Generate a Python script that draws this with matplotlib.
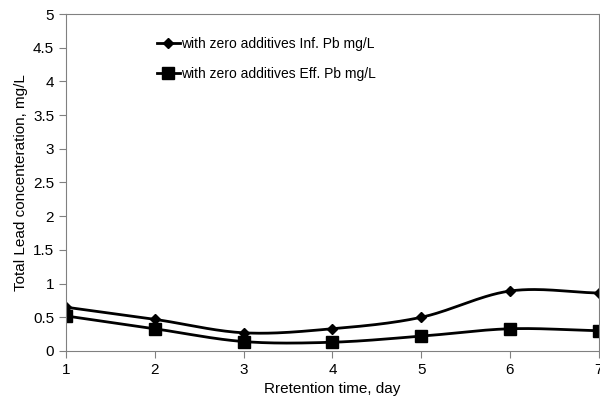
import numpy as np
import matplotlib
matplotlib.use("Agg")
from matplotlib import pyplot as plt

plt.rcParams["font.family"] = ["Liberation Sans", "DejaVu Sans"]

# data
days = [1, 2, 3, 4, 5, 6, 7]
inf_pb = [0.65, 0.47, 0.27, 0.33, 0.50, 0.89, 0.86]
eff_pb = [0.52, 0.33, 0.14, 0.13, 0.22, 0.33, 0.30]

labels = ["with zero additives Inf. Pb mg/L", "with zero additives Eff. Pb mg/L"]


def smooth(x, y, n=30):
    """Catmull-Rom curve through the points, like Excel's smoothed line"""
    x = np.asarray(x, dtype=float)
    y = np.asarray(y, dtype=float)
    px = np.concatenate([[2 * x[0] - x[1]], x, [2 * x[-1] - x[-2]]])
    py = np.concatenate([[2 * y[0] - y[1]], y, [2 * y[-1] - y[-2]]])
    xs, ys = [], []
    t = np.linspace(0, 1, n)
    for i in range(1, len(px) - 2):
        for p, out in ((px, xs), (py, ys)):
            p0, p1, p2, p3 = p[i - 1], p[i], p[i + 1], p[i + 2]
            out.extend(0.5 * ((2 * p1) + (-p0 + p2) * t
                              + (2 * p0 - 5 * p1 + 4 * p2 - p3) * t ** 2
                              + (-p0 + 3 * p1 - 3 * p2 + p3) * t ** 3))
    return np.array(xs), np.array(ys)


fig = plt.figure(figsize=(6, 4.07), dpi=100)
ax = fig.add_axes([0.11, 0.1376, 0.888, 0.828])

for vals, marker, ms, label in ((inf_pb, "D", 5, labels[0]),
                                (eff_pb, "s", 8, labels[1])):
    sx, sy = smooth(days, vals)
    ax.plot(sx, sy, color="black", lw=2)
    ax.plot(days, vals, linestyle="none", marker=marker, ms=ms,
            color="black")
    ax.plot([], [], color="black", lw=2, marker=marker, ms=ms, label=label)

ax.set_xlim(1, 7)
ax.set_ylim(0, 5)
ax.set_xticks(days)
ax.set_yticks(np.arange(0, 5.01, 0.5))
ax.set_yticklabels(["0", "0.5", "1", "1.5", "2", "2.5", "3", "3.5", "4",
                    "4.5", "5"])
ax.tick_params(labelsize=11, direction="out", length=5, color="#808080")
for s in ax.spines.values():
    s.set_color("#808080")

ax.set_xlabel("Rretention time, day", fontsize=11)
ax.set_ylabel("Total Lead concenteration, mg/L", fontsize=11)

ax.legend(loc="upper left", bbox_to_anchor=(0.148, 0.97), frameon=False,
          fontsize=10, labelspacing=1.2, handlelength=1.6,
          handletextpad=0.1)

plt.savefig("out.png", dpi=100)
